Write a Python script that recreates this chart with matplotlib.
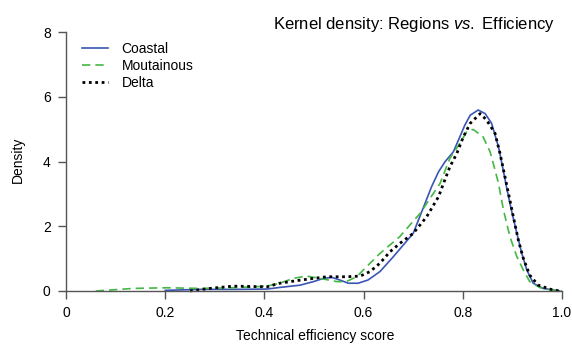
import numpy as np
from matplotlib import pyplot as plt

# values (efficiency score, density)
coastal_x = [0.20, 0.27, 0.34, 0.405, 0.431, 0.472, 0.499, 0.519, 0.536, 0.552, 0.569, 0.589,
             0.609, 0.633, 0.660, 0.70, 0.737, 0.751, 0.764, 0.781, 0.794, 0.804, 0.815,
             0.831, 0.845, 0.858, 0.872, 0.880, 0.888, 0.898, 0.909, 0.919, 0.929, 0.942,
             0.962, 0.995]
coastal_y = [0.02, 0.05, 0.05, 0.06, 0.11, 0.18, 0.29, 0.39, 0.42, 0.34, 0.24, 0.24,
             0.34, 0.6, 1.06, 1.78, 3.22, 3.68, 3.99, 4.3, 4.76, 5.12, 5.43,
             5.59, 5.48, 5.18, 4.45, 3.85, 3.22, 2.5, 1.78, 1.16, 0.65, 0.24,
             0.08, 0.0]

mount_x = [0.06, 0.136, 0.203, 0.27, 0.337, 0.405, 0.431, 0.458, 0.485, 0.512, 0.546, 0.565,
           0.586, 0.606, 0.633, 0.673, 0.714, 0.754, 0.774, 0.794, 0.808, 0.821,
           0.841, 0.855, 0.863, 0.872, 0.882, 0.895, 0.909, 0.922, 0.935, 0.956, 0.98, 1.0]
mount_y = [0.0, 0.08, 0.1, 0.08, 0.1, 0.15, 0.24, 0.39, 0.46, 0.39, 0.29, 0.29,
           0.44, 0.75, 1.16, 1.68, 2.4, 3.32, 4.1, 4.56, 4.92, 4.99,
           4.76, 4.3, 3.85, 3.32, 2.5, 1.68, 1.06, 0.65, 0.29, 0.1, 0.03, 0.0]

delta_x = [0.25, 0.29, 0.337, 0.37, 0.405, 0.431, 0.465, 0.499, 0.526, 0.565, 0.593, 0.613,
           0.633, 0.653, 0.673, 0.700, 0.727, 0.751, 0.761, 0.774, 0.788, 0.801, 0.815,
           0.835, 0.848, 0.865, 0.875, 0.885, 0.892, 0.902, 0.912, 0.922, 0.935, 0.952,
           0.98, 0.995]
delta_y = [0.0, 0.08, 0.15, 0.14, 0.13, 0.24, 0.32, 0.39, 0.44, 0.44, 0.46, 0.6,
           0.86, 1.21, 1.47, 1.78, 2.29, 2.91, 3.32, 3.84, 4.25, 4.76, 5.18,
           5.48, 5.28, 4.87, 4.25, 3.53, 3.02, 2.29, 1.57, 1.01, 0.49, 0.18,
           0.04, 0.0]

xticks = [0, 0.2, 0.4, 0.6, 0.8, 1.0]
xtick_labels = ['0', '0.2', '0.4', '0.6', '0.8', '1.0']
yticks = [0, 2, 4, 6, 8]

plt.rcParams['font.family'] = ['Liberation Sans', 'DejaVu Sans']
plt.rcParams['mathtext.fontset'] = 'custom'
plt.rcParams['mathtext.rm'] = 'Liberation Sans'
plt.rcParams['mathtext.it'] = 'Liberation Sans:italic'

fig = plt.figure(figsize=(5.72, 3.44), dpi=100)
ax = fig.add_axes([66 / 572, 53 / 344, 496 / 572, 259 / 344])

ax.plot(coastal_x, coastal_y, color='#3a55b4', lw=1.2, label='Coastal', clip_on=False)
ax.plot(mount_x, mount_y, color='#44b844', lw=1.2, ls=(0, (5, 3)), label='Moutainous', clip_on=False)
ax.plot(delta_x, delta_y, color='black', lw=2.0, ls=(0, (1, 1.3)), label='Delta', clip_on=False)

ax.set_xlim(0, 1)
ax.set_ylim(0, 8)
ax.set_xticks(xticks)
ax.set_xticklabels(xtick_labels)
ax.set_yticks(yticks)

for s in ['top', 'right']:
    ax.spines[s].set_visible(False)
for s in ['left', 'bottom']:
    ax.spines[s].set_color('#555555')
    ax.spines[s].set_linewidth(1.0)
ax.tick_params(direction='out', length=6, width=1.0, color='#555555',
               labelsize=10, pad=5)

ax.legend(loc='upper left', bbox_to_anchor=(82 / 572, 1 - 42 / 344),
          bbox_transform=fig.transFigure, frameon=False, fontsize=10,
          handlelength=1.9, handletextpad=0.95, labelspacing=0.2,
          borderaxespad=0, borderpad=0)

fig.text(414 / 572, 1 - 24 / 344, 'Kernel density: Regions $\\mathit{vs.}$ Efficiency',
         ha='center', va='center', fontsize=12)
fig.text(315 / 572, 1 - 336 / 344, 'Technical efficiency score', ha='center', va='center', fontsize=10)
fig.text(18 / 572, 1 - 160 / 344, 'Density', ha='center', va='center', rotation=90, fontsize=10)

plt.savefig('out.png', dpi=100)
